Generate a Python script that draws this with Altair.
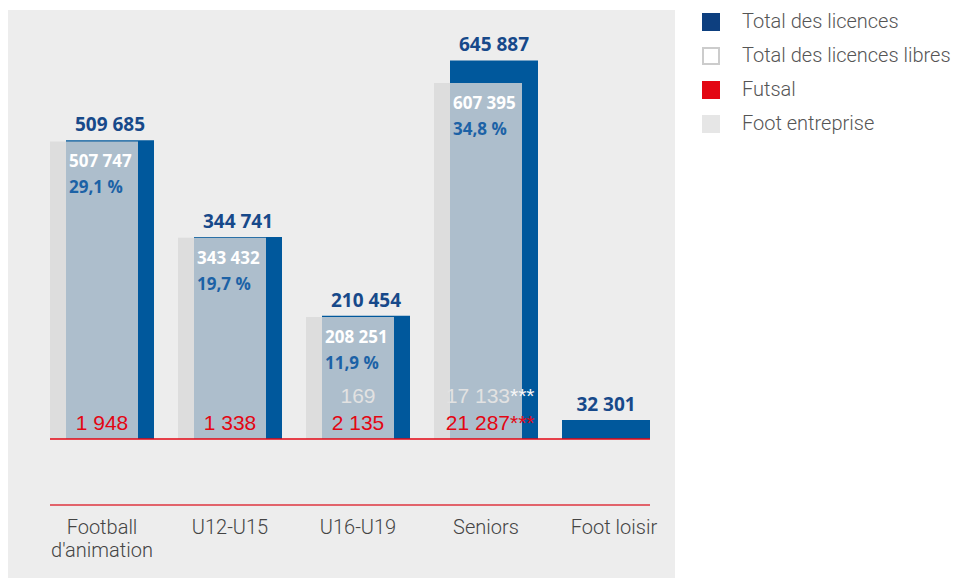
import altair as alt
import pandas as pd

# ---- data ----
categories = ["Football\nd'animation", "U12-U15", "U16-U19", "Seniors", "Foot loisir"]
total = [509685, 344741, 210454, 645887, 32301]
libres = [507747, 343432, 208251, 607395, None]
libres_pct = [29.1, 19.7, 11.9, 34.8, None]
futsal = [1948, 1338, 2135, 21287, None]
futsal_note = ["", "", "", "***", ""]
entreprise = [None, None, 169, 17133, None]
entreprise_note = ["", "", "", "***", ""]

legend_names = ["Total des licences", "Total des licences libres", "Futsal", "Foot entreprise"]
legend_fill = ["#0d3f7f", "#ffffff", "#e30613", "#e6e6e6"]
legend_stroke = ["#0d3f7f", "#cccccc", "#e30613", "#e6e6e6"]


def fr(v):
    return None if v is None else f"{int(v):,}".replace(",", " ")


def pct(v):
    return None if v is None else f"{v:.1f}".replace(".", ",") + " %"


df = pd.DataFrame({
    "cat": categories,
    "total": total,
    "libres": libres,
    "futsal": futsal,
    "entreprise": entreprise,
    "total_lbl": [fr(v) for v in total],
    "libres_lbl": [fr(v) for v in libres],
    "pct_lbl": [pct(v) for v in libres_pct],
    "futsal_lbl": [fr(v) for v in futsal],
    "futsal_note": futsal_note,
    "ent_lbl": [fr(v) for v in entreprise],
    "ent_note": entreprise_note,
})

x_scale = alt.Scale(domain=categories, range=[30, 670], paddingInner=0, paddingOuter=0)
y_scale = alt.Scale(domain=[-237200, 732000], nice=False, zero=False)

x_axis = alt.Axis(
    title=None, orient="bottom", offset=-73, domain=False, ticks=False, tickSize=0,
    grid=False, labelPadding=12, labelFont="Roboto", labelFontWeight=300,
    labelFontSize=20, labelColor="#444444", labelLineHeight=23, labelAngle=0,
    labelExpr="split(datum.label, '\\n')", zindex=1,
)

base = alt.Chart(df).encode(x=alt.X("cat:N", scale=x_scale, axis=x_axis))
Y = lambda f: alt.Y(f, scale=y_scale, axis=None)

has_lib = "isValid(datum.libres)"
no_lib = "!isValid(datum.libres)"

panel = alt.Chart(pd.DataFrame({"v": [0]})).mark_rect(color="#ededed").encode(
    x=alt.value(0), x2=alt.value(667), y=alt.value(0), y2=alt.value(568))

total_bars = base.mark_bar(color="#00589c", width=88, xOffset=8).encode(y=Y("total:Q")).transform_filter(has_lib)
total_solo = base.mark_bar(color="#00589c", width=88, xOffset=-8).encode(y=Y("total:Q")).transform_filter(no_lib)
libres_bars = base.mark_bar(color="#d8d8d8", opacity=0.8, width=88, xOffset=-8).encode(y=Y("libres:Q")).transform_filter(has_lib)

rule0 = alt.Chart(pd.DataFrame({"v": [0]})).mark_rule(color="#e30613", strokeWidth=1.5).encode(
    x=alt.value(42), x2=alt.value(642), y=alt.Y("v:Q", scale=y_scale, axis=None))
rule1 = alt.Chart(pd.DataFrame({"v": [0]})).mark_rule(color="#e2636b", strokeWidth=2).encode(
    x=alt.value(42), x2=alt.value(642), y=alt.value(495))

bold = dict(font="Open Sans", fontWeight="bold", baseline="alphabetic")
tot_txt = base.mark_text(fontSize=19, color="#17498a", dy=-9, xOffset=8, **bold).encode(
    y=Y("total:Q"), text="total_lbl:N").transform_filter(has_lib)
tot_txt_solo = base.mark_text(fontSize=19, color="#17498a", dy=-9, xOffset=-8, **bold).encode(
    y=Y("total:Q"), text="total_lbl:N").transform_filter(no_lib)
lib_txt = base.mark_text(fontSize=17, color="#ffffff", align="left", dy=26, xOffset=-33, **bold).encode(
    y=Y("libres:Q"), text="libres_lbl:N").transform_filter(has_lib)
pct_txt = base.mark_text(fontSize=17, color="#1c62a6", align="left", dy=52, xOffset=-33, **bold).encode(
    y=Y("libres:Q"), text="pct_lbl:N").transform_filter(has_lib)

reg = dict(font="Liberation Sans", fontSize=21, baseline="alphabetic")
zero = alt.Y("zero:Q", scale=y_scale, axis=None)
base0 = base.transform_calculate(zero="0")
fut_txt = base0.mark_text(color="#e30613", dy=-9, **reg).encode(
    y=zero, text="futsal_lbl:N").transform_filter("isValid(datum.futsal) && datum.futsal_note == ''")
fut_txt_n = base0.mark_text(color="#e30613", dy=-9, align="right", xOffset=24, **reg).encode(
    y=zero, text="futsal_lbl:N").transform_filter("isValid(datum.futsal) && datum.futsal_note != ''")
fut_star = base0.mark_text(color="#e30613", dy=-9, align="left", xOffset=24, **reg).encode(
    y=zero, text="futsal_note:N").transform_filter("datum.futsal_note != ''")

ent_txt = base0.mark_text(color="#e2e2e2", dy=-36, **reg).encode(
    y=zero, text="ent_lbl:N").transform_filter("isValid(datum.entreprise) && datum.ent_note == ''")
ent_txt_n = base0.mark_text(color="#e2e2e2", dy=-36, align="right", xOffset=24, **reg).encode(
    y=zero, text="ent_lbl:N").transform_filter("isValid(datum.entreprise) && datum.ent_note != ''")
ent_star = base0.mark_text(color="#f7f7f7", dy=-36, align="left", xOffset=24, **reg).encode(
    y=zero, text="ent_note:N").transform_filter("datum.ent_note != ''")

leg = alt.Legend(
    title=None, orient="none", legendX=693, legendY=2, padding=0,
    symbolType="square", symbolSize=256, symbolStrokeWidth=2, symbolOpacity=1,
    labelFont="Roboto", labelFontWeight=300, labelFontSize=20, labelColor="#555555",
    labelOffset=21, rowPadding=10, labelLimit=400,
)
legend_df = pd.DataFrame({"name": legend_names, "far": [5000000] * 4})
legend_layer = alt.Chart(legend_df).mark_square(clip=True, opacity=1).encode(
    y=alt.Y("far:Q", scale=y_scale, axis=None),
    fill=alt.Fill("name:N", scale=alt.Scale(domain=legend_names, range=legend_fill), legend=leg),
    stroke=alt.Stroke("name:N", scale=alt.Scale(domain=legend_names, range=legend_stroke), legend=leg),
)

chart = alt.layer(
    panel, total_bars, total_solo, libres_bars, rule0, rule1,
    tot_txt, tot_txt_solo, lib_txt, pct_txt,
    fut_txt, fut_txt_n, fut_star, ent_txt, ent_txt_n, ent_star,
    legend_layer,
).properties(
    width=667, height=568,
    padding={"left": 0, "top": 2, "right": 0, "bottom": 0},
    background="#ffffff",
).configure_view(stroke=None)

chart.save("out.html", embed_options={"renderer": "svg", "actions": False})
